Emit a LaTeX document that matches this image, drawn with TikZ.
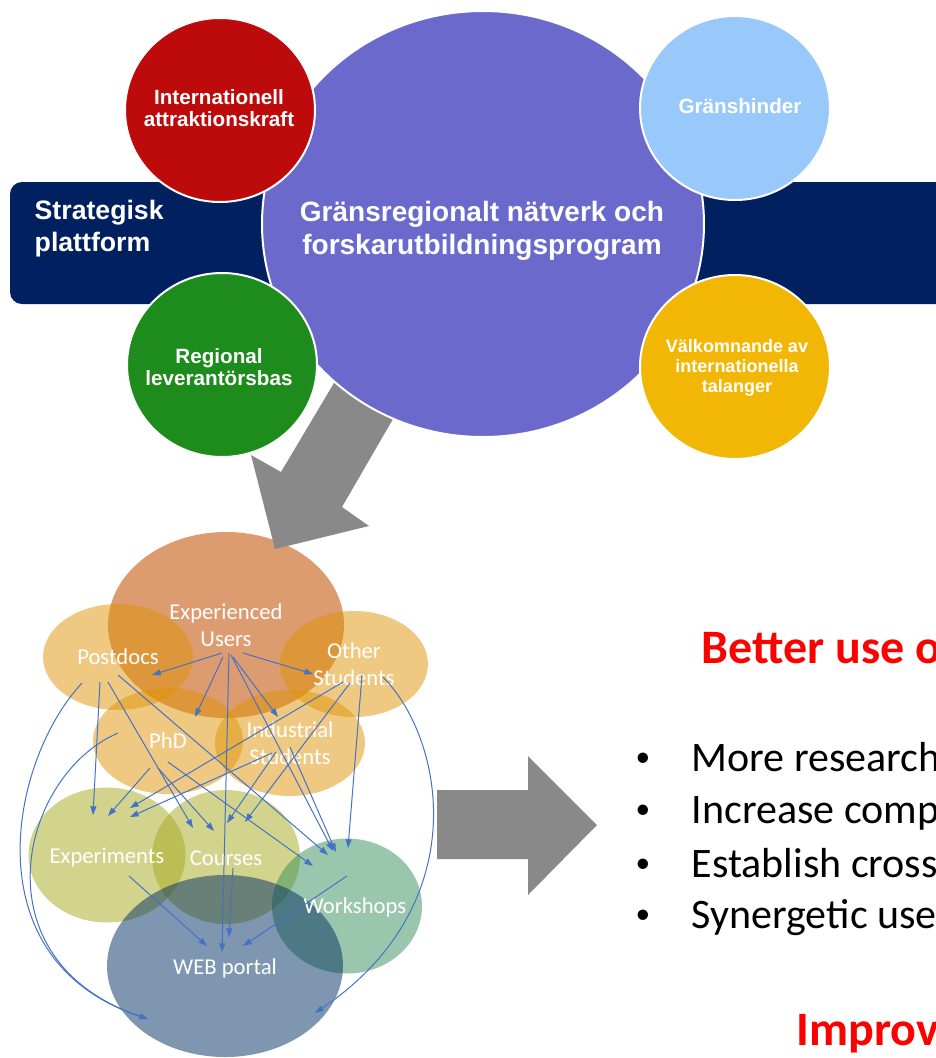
\documentclass[tikz,border=0pt]{standalone}
\usepackage{fontspec}
\setmainfont{Liberation Sans}
\newfontfamily\calibri{Carlito}
\usepackage{xcolor}
\definecolor{gnavy}{HTML}{002060}
\definecolor{gpurple}{HTML}{6C69CD}
\definecolor{gred}{HTML}{BD0A0A}
\definecolor{gsky}{HTML}{99C9FA}
\definecolor{ggreen}{HTML}{1D8C1D}
\definecolor{gyellow}{HTML}{F2B705}
\definecolor{ggray}{HTML}{898989}
\definecolor{gsalmon}{HTML}{C55A11}
\definecolor{ggold}{HTML}{DF9305}
\definecolor{golive}{HTML}{A5A91D}
\definecolor{gteal}{HTML}{378D5D}
\definecolor{gslate}{HTML}{002D61}
\definecolor{glink}{HTML}{4472C4}
\definecolor{galert}{HTML}{FF0000}
\usepackage{tikz}
\usetikzlibrary{arrows.meta,calc,shapes.geometric}

\newcommand{\dotmark}{\makebox[42pt][l]{\raisebox{3.5pt}{\fontsize{22}{22}\selectfont\textbullet}}}

\begin{document}
\begin{tikzpicture}[x=0.75pt,y=-0.75pt,
  disc/.style={ellipse,draw=white,line width=1.5pt,minimum width=142.5pt,minimum height=138pt,inner sep=0pt},
  disctext/.style={align=center,text=white,font=\fontsize{15.5}{16.5}\selectfont\bfseries},
  blob/.style={ellipse,inner sep=0pt,fill opacity=0.5},
  tag/.style={align=center,text=white,font=\calibri\fontsize{17}{20}\selectfont},
  lnk/.style={-{Triangle[length=6.5pt,width=4.5pt]},glink,line width=0.75pt},
  item/.style={anchor=base west,font=\calibri\fontsize{31.5}{38}\selectfont},
  head/.style={anchor=base west,text=galert,font=\calibri\fontsize{36}{42}\selectfont\bfseries}]
\useasboundingbox (0,0) rectangle (936,1058);

% user groups and activities
\node[blob,fill=gsalmon,fill opacity=0.6,minimum width=177pt,minimum height=139.5pt] (eu) at (226,625) {};
\node[blob,fill=ggold,minimum width=112.5pt,minimum height=79.5pt] (pd) at (118,657) {};
\node[blob,fill=ggold,minimum width=111pt,minimum height=79.5pt] (os) at (354,664) {};
\node[blob,fill=ggold,minimum width=112.5pt,minimum height=79.5pt] (phd) at (168,741) {};
\node[blob,fill=ggold,minimum width=112.5pt,minimum height=79.5pt] (ind) at (290,743) {};
\node[blob,fill=golive,minimum width=117.75pt,minimum height=101.25pt] (ex) at (107,855) {};
\node[blob,fill=golive,minimum width=111pt,minimum height=100.5pt] (co) at (226,857) {};
\node[blob,fill=gteal,minimum width=112.5pt,minimum height=101.25pt] (ws) at (347,906) {};
\node[blob,fill=gslate,minimum width=177pt,minimum height=136.5pt] (web) at (225,966) {};

\node[tag] (eu-t) at (eu) {Experienced\\Users};
\node[tag] (pd-t) at (pd) {Postdocs};
\node[tag] (os-t) at (os) {Other\\Students};
\node[tag] (phd-t) at (phd) {PhD};
\node[tag] (ind-t) at (ind) {Industrial\\Students};
\node[tag] (ex-t) at ($(ex)+(0,3)$) {Experiments};
\node[tag] (co-t) at ($(co)+(0,1)$) {Courses};
\node[tag] (ws-t) at ($(ws)+(8,1)$) {Workshops};
\node[tag] (web-t) at ($(web)+(0,2)$) {WEB portal};

% experienced users
\draw[lnk] ($(eu)+(-4,28)$) -- ($(pd)+(34,18)$);
\draw[lnk] ($(eu)+(17,28)$) -- ($(os)+(-41,10)$);
\draw[lnk] ($(eu)+(-3,32)$) -- ($(phd)+(27,-24)$);
\draw[lnk] ($(eu)+(7,32)$) -- ($(ind)+(-12,-26)$);
\draw[lnk] ($(eu)+(3,28)$) -- ($(web)+(-3,-14)$);
\draw[lnk] ($(eu)+(5,30)$) -- ($(ws)+(-14,-55)$);
% postdocs
\draw[lnk] ($(pd)+(-18,25)$) -- ($(ex)+(-14,-40)$);
\draw[lnk] ($(pd)+(-10,25)$) -- ($(co)+(-33,-29)$);
\draw[lnk] ($(pd)+(0,18)$) -- ($(ws)+(-19,-51)$);
\draw[lnk] ($(pd)+(-36,26)$) .. controls +(-72,77) and +(-178,-59) .. ($(web)+(-77,53)$);
% other students
\draw[lnk] ($(os)+(-11,18)$) -- ($(ex)+(23,-47)$);
\draw[lnk] ($(os)+(-4,19)$) -- ($(co)+(19,-35)$);
\draw[lnk] ($(os)+(8,11)$) -- ($(ws)+(1,-58)$);
\draw[lnk] ($(os)+(29,13)$) .. controls +(62,63) and +(160,-108) .. ($(web)+(90,47)$);
% phd
\draw[lnk] ($(phd)+(-18,27)$) -- ($(ex)+(1,-39)$);
\draw[lnk] ($(phd)+(-10,27)$) -- ($(co)+(-12,-26)$);
\draw[lnk] ($(phd)+(0,21)$) -- ($(ws)+(-34,-40)$);
\draw[lnk] ($(phd)+(-50,-8)$) .. controls +(-98,42) and +(-173,-59) .. ($(web)+(-77,53)$);
% industrial students
\draw[lnk] ($(ind)+(-18,10)$) -- ($(ex)+(23,-38)$);
\draw[lnk] ($(ind)+(-14,9)$) -- ($(co)+(1,-34)$);
\draw[lnk] ($(ind)+(0,4)$) -- ($(ws)+(-11,-54)$);
% activities feed the portal
\draw[lnk] ($(ex)+(22,21)$) -- ($(web)+(-18,-20)$);
\draw[lnk] ($(co)+(7,11)$) -- ($(web)+(4,-29)$);
\draw[lnk] ($(ws)+(0,-30)$) -- ($(web)+(18,-20)$);

% strategic platform
\node[rectangle,rounded corners=9pt,fill=gnavy,minimum width=709.5pt,minimum height=91.5pt] (bar) at (483,243) {};
\node[anchor=west,align=left,text=white,font=\fontsize{20}{24}\selectfont\bfseries] (plat) at (30,229)
  {Strategisk\\plattform};
\fill[ggray] (356,346) -- (415,381) -- (342,507) -- (369,526) -- (275,549) -- (251,455) -- (281,472) -- cycle;
\node[ellipse,draw=white,line width=1.5pt,fill=gpurple,minimum width=331.5pt,minimum height=319.5pt,
  inner sep=0pt] (hub) at (483,224) {};
\node[align=center,text=white,font=\fontsize{21}{24.75}\selectfont\bfseries] (hub-t) at (482,231)
  {Gränsregionalt nätverk och\\forskarutbildningsprogram};
\node[disc,fill=gred] (attr) at (220,110) {};
\node[disc,fill=gsky] (hinder) at (735,108) {};
\node[disc,fill=ggreen] (lev) at (222,365) {};
\node[disc,fill=gyellow] (tal) at (735,367) {};
\node[disctext] (attr-t) at (219,108) {Internationell\\attraktionskraft};
\node[disctext] (hinder-t) at (740,106) {Gränshinder};
\node[disctext] (lev-t) at (219,367) {Regional\\leverantörsbas};
\node[disctext,font=\fontsize{13.5}{15}\selectfont\bfseries] (tal-t) at (737,368)
  {Välkomnande av\\internationella\\talanger};

% outcome
\fill[ggray] (437,790) -- (528,790) -- (528,756) -- (597,825) -- (528,895) -- (528,859) -- (437,859) -- cycle;
\node[head] (better) at (697,663) {Better use o};
\node[item] (i1) at (631,771) {\dotmark More research};
\node[item] (i2) at (631,823) {\dotmark Increase comp};
\node[item] (i3) at (631,877) {\dotmark Establish cross};
\node[item] (i4) at (631,928) {\dotmark Synergetic use};
\node[head] (improv) at (792,1045) {Improv};
\end{tikzpicture}
\end{document}
